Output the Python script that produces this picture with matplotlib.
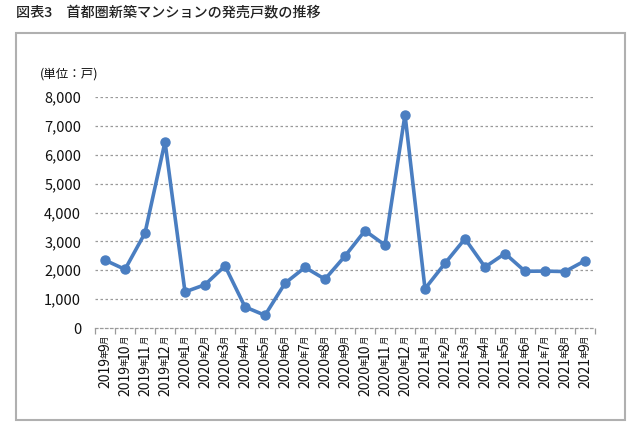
import numpy as np
import matplotlib
matplotlib.use("Agg")
from matplotlib import pyplot as plt
from matplotlib.patches import Rectangle
from matplotlib.transforms import blended_transform_factory

plt.rcParams['font.family'] = ['Noto Sans CJK JP', 'DejaVu Sans']

# data
years = [2019] * 4 + [2020] * 12 + [2021] * 9
months = [9, 10, 11, 12] + list(range(1, 13)) + list(range(1, 10))
units = [2350, 2030, 3290, 6450, 1250, 1500, 2150, 730, 440, 1550, 2100, 1690,
         2490, 3370, 2870, 7390, 1360, 2240, 3090, 2110, 2580, 1965, 1970, 1955, 2330]
yticks = [0, 1000, 2000, 3000, 4000, 5000, 6000, 7000, 8000]

blue = '#4a7ec1'
grey = '#9a9a9a'

fig = plt.figure(figsize=(6.4, 4.26), dpi=100)

# outer frame
fig.patches.append(Rectangle((16 / 640, 6 / 426), 609 / 640, 387 / 426,
                             transform=fig.transFigure, fill=False,
                             edgecolor='#b0b0b0', linewidth=1.5))

fig.text(16 / 640, 1 - 12 / 426, '図表3　首都圏新築マンションの発売戸数の推移',
         fontsize=10.2, fontweight='medium', color='#222222', va='center', ha='left')

ax = fig.add_axes([95 / 640, 98 / 426, 500 / 640, 231 / 426])
x = np.arange(len(units))
ax.plot(x, units, color=blue, linewidth=2.6, marker='o', markersize=6.5, zorder=3)

ax.set_xlim(-0.5, len(units) - 0.5)
ax.set_ylim(0, 8000)
ax.set_yticks(yticks)
ax.set_yticklabels(['{:,}'.format(v) for v in yticks], fontsize=10.5, color='#111111')
ax.tick_params(axis='y', length=0, pad=10)
for v in yticks[1:]:
    ax.axhline(v, color=grey, linewidth=0.9, linestyle=(0, (2, 2)), zorder=1)

for s in ['top', 'right', 'left']:
    ax.spines[s].set_visible(False)
ax.spines['bottom'].set_color(grey)
ax.spines['bottom'].set_linestyle((0, (2, 2)))
ax.spines['bottom'].set_linewidth(0.9)

ax.set_xticks(np.arange(-0.5, len(units), 1.0), minor=True)
ax.set_xticks([])
ax.tick_params(axis='x', which='minor', length=4, color=grey, width=0.9)

fig.text(40 / 640, 1 - 74 / 426, '(単位：戸)', fontsize=9, color='#111111',
         ha='left', va='center')

# x labels: rotated, with small 年/月
renderer = fig.canvas.get_renderer()
trans = blended_transform_factory(ax.transData, ax.transAxes)
for i, (yr, mo) in enumerate(zip(years, months)):
    pieces = [('月', 6), (str(mo), 10), ('年', 6), (str(yr), 10)]
    offset = -8
    for txt, fs in pieces:
        t = ax.annotate(txt, xy=(i, 0), xycoords=trans, xytext=(0, offset),
                        textcoords='offset pixels', rotation=90, fontsize=fs,
                        ha='center', va='top', color='#111111',
                        annotation_clip=False)
        bb = t.get_window_extent(renderer)
        offset -= bb.height - 1

fig.savefig('out.png', dpi=100)
